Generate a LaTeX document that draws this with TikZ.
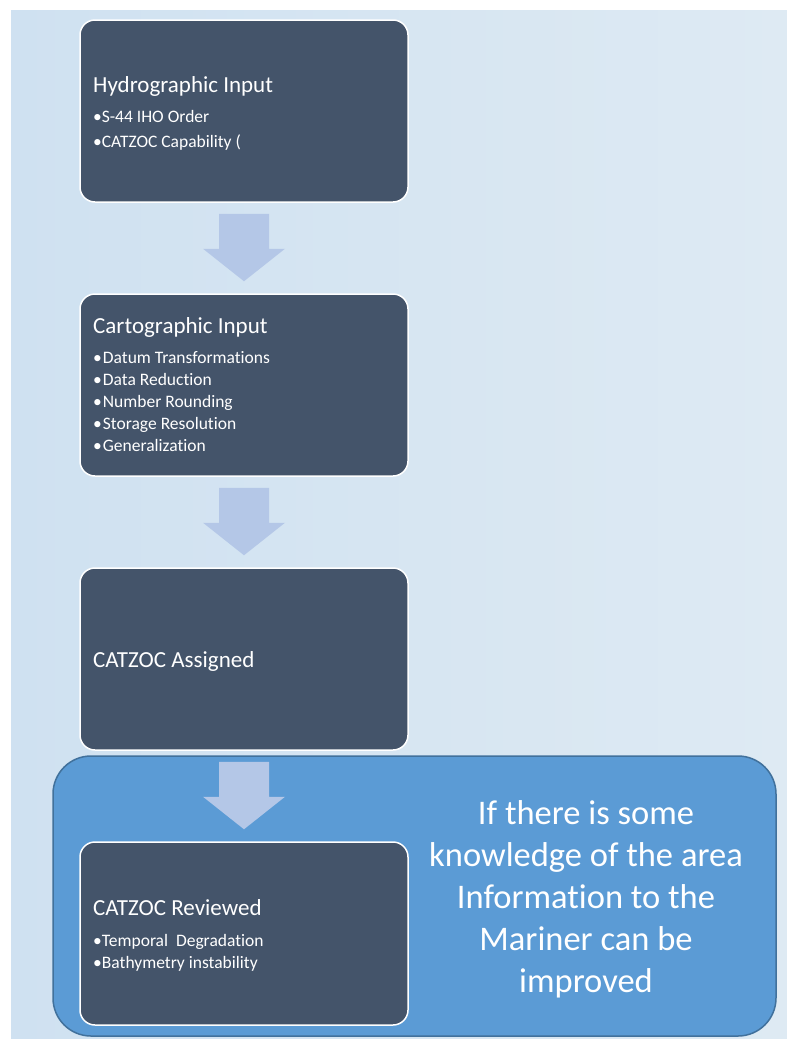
\documentclass[tikz,border=0pt]{standalone}
\usepackage{fontspec}
\setmainfont{Carlito}[Ligatures=NoCommon]
\usetikzlibrary{calc}
\definecolor{bgL}{HTML}{CFE1F1}
\definecolor{bgR}{HTML}{DEEAF3}
\definecolor{boxfill}{HTML}{44546A}
\definecolor{bigfill}{HTML}{5B9BD5}
\definecolor{bigdraw}{HTML}{41719C}
\definecolor{arrowfill}{HTML}{B4C7E7}
\tikzset{
  stepbox/.style={draw=white, line width=1.5pt, fill=boxfill, rounded corners=15pt,
    minimum width=328pt, minimum height=182pt, inner sep=0pt},
  bigbox/.style={draw=bigdraw, line width=1.5pt, fill=bigfill, rounded corners=38pt,
    minimum width=723pt, minimum height=280pt, inner sep=0pt},
  boxtitle/.style={anchor=base west, text=white, inner sep=0pt, font=\fontsize{23}{27}\selectfont},
  boxitem/.style={anchor=base west, text=white, inner sep=0pt, font=\fontsize{17.5}{20}\selectfont},
  bigtext/.style={anchor=base, text=white, inner sep=0pt, font=\fontsize{34.5}{42}\selectfont},
  blockarrow/.style={fill=arrowfill, draw=none},
}
\newcommand\flowarrow[2]{%
  \fill[blockarrow] ($(#1.south)+(-25,11)$) -- ($(#1.south)+(25,11)$)
    -- ($(#1.south)+(25,46)$) -- ($(#1.south)+(41,46)$)
    -- ($(#2.north)+(0,-12)$)
    -- ($(#1.south)+(-41,46)$) -- ($(#1.south)+(-25,46)$) -- cycle;}
\begin{document}
\begin{tikzpicture}[x=1pt,y=-1pt]
\useasboundingbox (0,0) rectangle (787,1039);
\fill[white] (0,0) rectangle (787,1039);
\shade[left color=bgL, right color=bgR] (11,10) rectangle (787,1039);

% boxes
\node[stepbox] (b1) at (244,111) {};
\node[stepbox] (b2) at (244,385) {};
\node[stepbox] (b3) at (244,659) {};
\node[bigbox] (big) at (414.5,896) {};
\node[stepbox, minimum height=183pt] (b4) at (244,933.5) {};

% arrows
\flowarrow{b1}{b2}
\flowarrow{b2}{b3}
\flowarrow{b3}{b4}

% box 1
\node[boxtitle] (t1) at (93,92) {Hydrographic Input};
\node[boxitem] (t1a) at (93,122) {•S-44 IHO Order};
\node[boxitem] (t1b) at (93,147) {•CATZOC Capability (};

% box 2
\node[boxtitle] (t2) at (93,333) {Cartographic Input};
\node[boxitem] (t2a) at (93,363) {•\kern1pt Datum Transformations};
\node[boxitem] (t2b) at (93,385) {•\kern1pt Data Reduction};
\node[boxitem] (t2c) at (93,407) {•\kern1pt Number Rounding};
\node[boxitem] (t2d) at (93,429) {•\kern1pt Storage Resolution};
\node[boxitem] (t2e) at (93,451) {•\kern1pt Generalization};

% box 3
\node[boxtitle] (t3) at (93,667) {CATZOC Assigned};

% box 4
\node[boxtitle] (t4) at (93,915) {CATZOC Reviewed};
\node[boxitem] (t4a) at (93,946) {•Temporal\ \ Degradation};
\node[boxitem] (t4b) at (93,968) {•Bathymetry instability};

% big text
\node[bigtext] (l1) at (586,824) {If there is some};
\node[bigtext] (l2) at (586,866) {knowledge of the area};
\node[bigtext] (l3) at (586,908) {Information to the};
\node[bigtext] (l4) at (586,950) {Mariner can be};
\node[bigtext] (l5) at (586,992) {improved};
\end{tikzpicture}
\end{document}
